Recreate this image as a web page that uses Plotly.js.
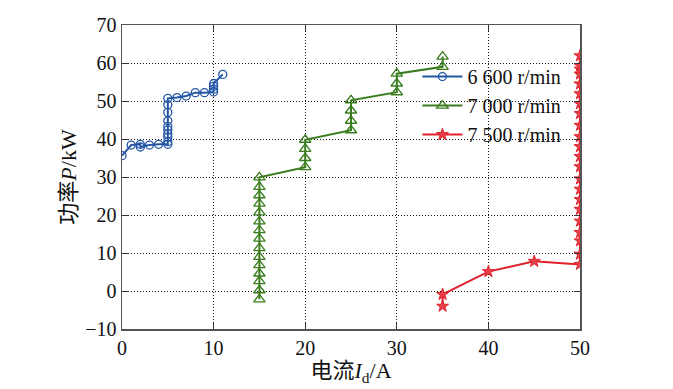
<!DOCTYPE html>
<html>
<head>
<meta charset="utf-8">
<script src="https://cdn.plot.ly/plotly-3.0.1.min.js"></script>
<style>body{margin:0;background:#fff;}#chart{width:673px;height:389px;}</style>
</head>
<body>
<div id="chart"></div>
<script>
// Data
const seriesNames = ['6 600 r/min', '7 000 r/min', '7 500 r/min'];

const x6600 = [0, 1, 2, 2, 3, 4, 5, 5, 5, 5, 5, 5, 5, 5, 5, 5, 6, 7, 8, 9, 10, 10, 10, 10, 11];
const p6600 = [35.6, 38.4, 38.6, 37.9, 38.4, 38.6, 38.6, 39.3, 40.5, 41.3, 42.4, 43.3, 44.8, 47.0, 49.0, 50.7, 50.9, 51.3, 52.2, 52.2, 52.4, 53.1, 53.9, 54.6, 57.0];

const x7000 = [15, 15, 15, 15, 15, 15, 15, 15, 15, 15, 15, 15, 15, 15, 15, 20, 20, 20, 20, 25, 25, 25, 25, 30, 30, 30, 35, 35];
const p7000 = [-2.2, 0.2, 2.6, 4.6, 6.8, 9.0, 11.3, 13.8, 16.0, 18.3, 20.7, 23.0, 25.2, 27.4, 29.9, 32.6, 35.0, 37.4, 39.8, 42.3, 44.8, 47.5, 50.2, 52.3, 54.6, 57.2, 59.0, 61.7];

const x7500 = [35, 35, 40, 45, 50, 50, 50, 50, 50, 50, 50, 50, 50, 50, 50, 50, 50, 50, 50, 50, 50, 50, 50, 50, 50, 50];
const p7500 = [-4.0, -0.9, 5.1, 7.8, 7.0, 9.7, 13.2, 15.4, 18.4, 21.5, 24.1, 26.8, 29.5, 32.7, 35.4, 38.0, 40.6, 43.6, 46.7, 49.3, 51.9, 54.5, 57.1, 58.4, 59.3, 61.9];

const xTicks = [0, 10, 20, 30, 40, 50];
const yTicks = [-10, 0, 10, 20, 30, 40, 50, 60, 70];

const serif = 'Liberation Serif, Times New Roman, Noto Sans CJK SC, serif';

const traces = [
  {x: x6600, y: p6600, name: seriesNames[0], mode: 'lines+markers',
   line: {color: '#2456a6', width: 2},
   marker: {symbol: 'circle-open', size: 8, color: '#2456a6', line: {width: 1.3}}},
  {x: x7000, y: p7000, name: seriesNames[1], mode: 'lines+markers',
   line: {color: '#3a7d1e', width: 2},
   marker: {symbol: 'triangle-up-open', size: 10, color: '#3a7d1e', line: {width: 1.3}}},
  {x: x7500, y: p7500, name: seriesNames[2], mode: 'lines+markers',
   line: {color: '#e0202a', width: 2},
   marker: {symbol: 'star', size: 9, color: '#e8404a', line: {color: '#e0202a', width: 1}}}
];

const axisCommon = {
  showline: true, linecolor: '#555', linewidth: 1.5, mirror: 'ticks',
  ticks: 'inside', ticklen: 6, tickcolor: '#333', tickwidth: 1,
  showgrid: true, gridcolor: '#111', griddash: '1px,2px', gridwidth: 1,
  zeroline: false,
  tickfont: {family: serif, size: 20, color: '#111'}
};

const layout = {
  width: 673, height: 389,
  margin: {l: 122, r: 93, t: 25, b: 60},
  paper_bgcolor: '#fff', plot_bgcolor: '#fff',
  xaxis: Object.assign({}, axisCommon, {
    range: [0, 50], tickvals: xTicks, ticktext: xTicks.map(String),
    title: {text: '电流<i>I</i><sub>d</sub>/A', font: {family: serif, size: 22, color: '#111'}, standoff: 2}
  }),
  yaxis: Object.assign({}, axisCommon, {
    range: [-10, 70], tickvals: yTicks, ticktext: yTicks.map(v => v < 0 ? '\u2212' + Math.abs(v) : String(v)),
    title: {text: '功率<i>P</i>/kW', font: {family: serif, size: 22, color: '#111'}, standoff: 2}
  }),
  legend: {
    x: 0.645, y: 0.735, xanchor: 'left', yanchor: 'middle',
    bgcolor: 'rgba(255,255,255,0)', borderwidth: 0,
    font: {family: serif, size: 20, color: '#111'},
    itemwidth: 40, tracegroupgap: 0
  },
  showlegend: true
};

Plotly.newPlot('chart', traces, layout, {displayModeBar: false, staticPlot: true});
</script>
</body>
</html>
